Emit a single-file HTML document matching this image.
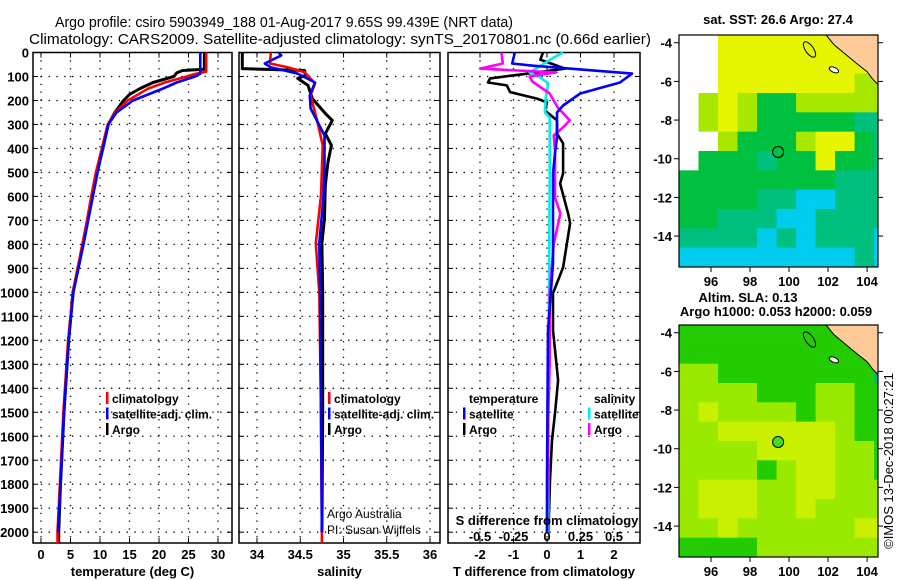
<!DOCTYPE html>
<html><head><meta charset="utf-8"><title>Argo profile</title>
<style>
html,body{margin:0;padding:0;background:#fff;}
svg{display:block;font-family:"Liberation Sans",sans-serif;}
.b{font-weight:bold;font-size:13px;}
.lg{font-weight:bold;font-size:12px;}
</style></head>
<body>
<svg id="fig" width="900" height="580" viewBox="0 0 900 580">
<text x="284" y="27" text-anchor="middle" font-size="15" textLength="458" lengthAdjust="spacingAndGlyphs">Argo profile: csiro 5903949_188 01-Aug-2017 9.65S 99.439E (NRT data)</text>
<text x="340" y="44" text-anchor="middle" font-size="15" textLength="622" lengthAdjust="spacingAndGlyphs">Climatology: CARS2009. Satellite-adjusted climatology: synTS_20170801.nc (0.66d earlier)</text>
<g id="panels"></g>
<g id="maps"></g>
<text transform="translate(893,461) rotate(-90)" text-anchor="middle" font-size="13">©IMOS 13-Dec-2018 00:27:21</text>
</svg>
<script>
// ---------- profile data ----------
const depthTicks = [0,100,200,300,400,500,600,700,800,900,1000,1100,1200,1300,1400,1500,1600,1700,1800,1900,2000];
const tempTicks = [0,5,10,15,20,25,30];
const salTicks = [34,34.5,35,35.5,36];
const dtTicks = [-2,-1,0,1,2];
const dsTicks = [-0.5,-0.25,0,0.25,0.5];

const tArgoD = [0,70,75,85,100,125,150,175,200,250,300,400,500,600,700,800,1000,1200,1500,1800,2000,2045];
const tArgo  = [27.7,27.7,24,23,22.5,19,16.8,15,14,12.5,11.4,10.5,9.5,8.7,7.9,7.1,5.4,4.7,3.9,3.3,3.0,3.0];
const tClimD = [0,80,90,100,125,150,200,250,300,400,500,600,700,800,1000,1200,1500,1800,2000,2045];
const tClim  = [28.0,28.0,26,24.7,21,18.2,14.7,12.6,11.3,10.3,9.3,8.5,7.8,7.0,5.4,4.6,3.8,3.2,2.8,2.8];
const tSatD  = [0,88,100,125,150,200,250,300,400,500,600,700,800,1000,1200,1500,1800,2000];
const tSat   = [27.0,27.0,26.1,23,20.7,15.6,12.8,11.4,10.5,9.6,8.8,8.0,7.2,5.5,4.7,3.9,3.3,2.9];

const sArgoD = [0,67,75,96,108,137,192,254,283,338,387,458,554,692,796,1000,1500,2000];
const sArgo  = [33.83,33.83,34.55,34.56,34.47,34.59,34.64,34.79,34.87,34.79,34.86,34.82,34.79,34.78,34.75,34.76,34.76,34.75];
const sClimD = [0,46,62,82,129,179,292,387,596,796,1000,1500,2000,2045];
const sClim  = [34.16,34.15,34.36,34.55,34.67,34.62,34.70,34.76,34.74,34.68,34.72,34.74,34.75,34.75];
const sSatD  = [0,12,46,62,88,125,179,233,346,458,596,796,1000,1500,2000];
const sSat   = [34.25,34.28,34.09,34.16,34.47,34.67,34.61,34.62,34.78,34.78,34.77,34.72,34.73,34.74,34.75];

const dtArgoD = [0,30,67,83,108,125,137,165,192,208,242,283,338,379,504,546,604,671,712,896,1004,1158,1367,1504,1617,1783,1921,2000];
const dtArgo  = [-0.12,-0.2,0.54,-0.3,-1.7,-1.76,-1.2,-1.1,-0.3,0,-0.06,0.3,0.3,0.48,0.48,0.39,0.5,0.63,0.69,0.48,0.18,0.18,0.33,0.24,0.15,0.09,0.06,0.05];
const dtSatD  = [0,46,55,88,125,171,221,250,354,421,504,879,1158,1783,2000];
const dtSat   = [-0.96,-1.04,-0.42,2.54,2.18,0.99,0.48,0.3,0.3,0.24,0.18,0.18,0.03,0,0];
const dsArgoD = [0,46,67,83,100,121,171,229,283,312,346,408,604,671,800,1000,1300,1500,2000];
const dsArgo  = [-0.34,-0.33,-0.5,0.07,-0.13,-0.11,0.02,0.08,0.17,0.12,0.05,0.06,0.06,0.1,0.05,0.02,0.02,0.01,0];
const dsSatD  = [0,21,63,83,104,129,188,250,271,504,1000,1500,2000];
const dsSat   = [0.12,0.05,-0.07,-0.13,-0.05,0.01,-0.01,-0.015,0.02,0.02,0.015,0.01,0.01];

// ---------- helpers ----------
const NS='http://www.w3.org/2000/svg';
function mk(tag,attrs,parent){const e=document.createElementNS(NS,tag);for(const k in attrs)e.setAttribute(k,attrs[k]);parent.appendChild(e);return e;}
const TOP=52.5, BOT=543, DMAX=2045;
const yD = d => TOP + (d/DMAX)*(BOT-TOP);
function lin(d0,d1,r0,r1){return v=>r0+(v-d0)/(d1-d0)*(r1-r0);}

const panels=document.getElementById('panels');
const P=[
 {name:'temperature-panel',x0:33,x1:232,sc:lin(0,30,41,218),ticks:tempTicks,label:'temperature (deg C)',ylabels:true},
 {name:'salinity-panel',x0:239,x1:440,sc:lin(34,36,257,430),ticks:salTicks,label:'salinity'},
 {name:'difference-panel',x0:448,x1:640,sc:lin(-2,2,480,614),ticks:dtTicks,label:'T difference from climatology'}
];
P.forEach(p=>{
  const g=mk('g',{},panels);
  
  
  depthTicks.forEach(d=>{
    const y=yD(d);
    mk('line',{x1:p.x0,x2:p.x1,y1:y,y2:y,stroke:'#000','stroke-width':1.3,'stroke-dasharray':'1.3,6.5'},g);
    mk('line',{x1:p.x0,x2:p.x0+5,y1:y,y2:y,stroke:'#000'},g);
    mk('line',{x1:p.x1-5,x2:p.x1,y1:y,y2:y,stroke:'#000'},g);
    if(p.ylabels){const t=mk('text',{x:29,y:y+5,'text-anchor':'end',class:'b'},g);t.textContent=d;
      
      }
  });
  p.ticks.forEach(v=>{
    const x=p.sc(v);
    mk('line',{x1:x,x2:x,y1:TOP,y2:BOT,stroke:'#000','stroke-width':1.3,'stroke-dasharray':'1.3,6.5'},g);
    mk('line',{x1:x,x2:x,y1:BOT-5,y2:BOT,stroke:'#000'},g);
    mk('line',{x1:x,x2:x,y1:TOP,y2:TOP+5,stroke:'#000'},g);
    const t=mk('text',{x:x,y:559,'text-anchor':'middle',class:'b'},g);t.textContent=v;
    
    
  });
  const t=mk('text',{x:(p.x0+p.x1)/2,y:576,'text-anchor':'middle',class:'b'},g);t.textContent=p.label;
  
  
  const r=mk('rect',{x:p.x0,y:TOP,width:p.x1-p.x0,height:BOT-TOP,fill:'none',stroke:'#000','stroke-width':1.5},g);
  
  
});
function series(sc,ds,vs,color,name,w){
  const pts=ds.map((d,i)=>sc(vs[i]).toFixed(1)+','+yD(d).toFixed(1)).join(' ');
  const e=mk('polyline',{points:pts,fill:'none',stroke:color,'stroke-width':w||2.6,'stroke-linejoin':'round'},panels);
  
  
}
series(P[0].sc,tArgoD,tArgo,'#000','argo-temperature-line',3);
series(P[0].sc,tClimD,tClim,'#f00','climatology-temperature-line');
series(P[0].sc,tSatD,tSat,'#00f','satellite-temperature-line');
series(P[1].sc,sArgoD,sArgo,'#000','argo-salinity-line',3);
series(P[1].sc,sClimD,sClim,'#f00','climatology-salinity-line');
series(P[1].sc,sSatD,sSat,'#00f','satellite-salinity-line');
const sdx=lin(-0.5,0.5,480,614);
series(P[2].sc,dtArgoD,dtArgo,'#000','argo-t-difference-line');
series(sdx,dsSatD,dsSat,'#0ee','satellite-s-difference-line');
series(sdx,dsArgoD,dsArgo,'#f0f','argo-s-difference-line');
series(P[2].sc,dtSatD,dtSat,'#00f','satellite-t-difference-line');

(function(){
  const t=mk('text',{x:547,y:525,'text-anchor':'middle',class:'b'},panels);t.textContent='S difference from climatology';
  
  
  dsTicks.forEach(v=>{const e=mk('text',{x:sdx(v),y:541,'text-anchor':'middle',class:'b'},panels);e.textContent=v;
    
    });
})();
function legend(x,y,items){
  items.forEach((it,i)=>{
    const yy=y+i*15.5;
    if(it[1]){const m=mk('rect',{x:x-6,y:yy-11,width:2.5,height:12,fill:it[1]},panels);
      
      }
    const t=mk('text',{x:x,y:yy,class:'lg'},panels);t.textContent=it[0];
    
    
  });
}
legend(112,403,[['climatology','#f00'],['satellite-adj. clim.','#00f'],['Argo','#000']]);
legend(334,403,[['climatology','#f00'],['satellite-adj. clim.','#00f'],['Argo','#000']]);
legend(469,403,[['temperature',null],['satellite','#00f'],['Argo','#000']]);
legend(594,403,[['salinity',null],['satellite','#0ee'],['Argo','#f0f']]);
(function(){
  const a=mk('text',{x:327,y:518,'font-size':12},panels);a.textContent='Argo Australia';
  
  
  const b=mk('text',{x:327,y:534,'font-size':12},panels);b.textContent='PI: Susan Wijffels';
  
  
})();

// ---------- maps ----------
const lonTicks=[96,98,100,102,104];
const latTicks=[-4,-6,-8,-10,-12,-14];
const sstGrid=[
 'WWYYYYYYYYY',
 'WWYYYYYYYYY',
 'WWYYYYYYYLL',
 'WLYLGGLLLLL',
 'WLYLGGGGGTT',
 'WWLGGGLYYGT',
 'WGGGTGGYGGT',
 'GGGGGGGGTTT',
 'GGGGTTCCTTT',
 'GGTTTCCTTTT',
 'TTTTCTCTTTC',
 'CCCCCCCCCTC'];
const slaGrid=[
 'GGGGGGGGGGG',
 'GGGGGGGGGGT',
 'LLGGGGGGGGT',
 'LLLLGGGLLGG',
 'LYLLLLGLLGG',
 'LLYYYYYYLGG',
 'LLLLYYYYLLG',
 'LLLLGLYYLLG',
 'LYYYLLYYLLL',
 'LYYYLLYLLLL',
 'LLYLLLLLLYY',
 'GGGGLLLLLLL'];
const sstColors={W:'#ffffff',Y:'#e6f500',L:'#a8e800',G:'#00c040',T:'#00c080',C:'#00ccee'};
const slaColors={G:'#22cc00',L:'#99ea00',Y:'#c8f000',T:'#00bb66'};
const argoLon=99.44, argoLat=-9.65;
const maps=document.getElementById('maps');
function drawMap(top,grid,colors,name,titles,dotFill){
  const L=679,R=878,B=top+232;
  const mx=lin(94.36,104.56,L,R), my=lin(-3.6,-15.6,top,B);
  const g=mk('g',{},maps);
  
  
  const cid='clip-'+name;
  const cp=mk('clipPath',{id:cid},g);mk('rect',{x:L,y:top,width:R-L,height:B-top},cp);
  const cg=mk('g',{'clip-path':'url(#'+cid+')'},g);
  grid.forEach((row,j)=>{[...row].forEach((c,i)=>{
    const x0=mx(94.36+i),x1=mx(95.36+i),y0=my(-3.6-j),y1=my(-4.6-j);
    const cell=mk('rect',{x:x0,y:y0,width:x1-x0+0.5,height:y1-y0+0.5,fill:colors[c]},cg);
    
    
  });});
  const land=[[101.9,-3.6],[102.3,-4.1],[102.9,-4.6],[103.5,-5.1],[104.0,-5.5],[104.3,-5.9],[104.6,-6.2],[104.6,-3.6]];
  const lp=mk('polygon',{points:land.map(p=>mx(p[0])+','+my(p[1])).join(' '),fill:'#ffcc99',stroke:'#000','stroke-width':1},cg);
  
  
  const is1=mk('ellipse',{cx:mx(101.05),cy:my(-4.35),rx:4,ry:9,transform:'rotate(-35 '+mx(101.05)+' '+my(-4.35)+')',fill:'none',stroke:'#000'},cg);
  
  
  const is2=mk('ellipse',{cx:mx(102.3),cy:my(-5.4),rx:5,ry:2.5,transform:'rotate(25 '+mx(102.3)+' '+my(-5.4)+')',fill:'#fff',stroke:'#000'},cg);
  
  
  const dot=mk('circle',{cx:mx(argoLon),cy:my(argoLat),r:5.5,fill:dotFill,stroke:'#000','stroke-width':1},g);
  
  
  const fr=mk('rect',{x:L,y:top,width:R-L,height:B-top,fill:'none',stroke:'#000','stroke-width':1.2},g);
  
  
  lonTicks.forEach(v=>{const x=mx(v);
    mk('line',{x1:x,x2:x,y1:B,y2:B+5,stroke:'#000'},g);
    const t=mk('text',{x:x,y:B+19,'text-anchor':'middle',class:'b'},g);t.textContent=v;
    
    });
  latTicks.forEach(v=>{const y=my(v);
    mk('line',{x1:L-5,x2:L,y1:y,y2:y,stroke:'#000'},g);
    mk('line',{x1:R,x2:R+5,y1:y,y2:y,stroke:'#000'},g);
    const t=mk('text',{x:L-7,y:y+5,'text-anchor':'end',class:'b'},g);t.textContent=v;
    
    });
  titles.forEach(tt=>{const t=mk('text',{x:tt[0],y:tt[1],'text-anchor':'middle',class:'b'},g);t.textContent=tt[2];
    
    });
}
drawMap(35,sstGrid,sstColors,'sst-map',[[778,24,'sat. SST: 26.6 Argo: 27.4']],'#00c040');
drawMap(325,slaGrid,slaColors,'sla-map',[[748,302,'Altim. SLA: 0.13'],[776,316,'Argo h1000: 0.053 h2000: 0.059']],'#44dd22');
</script>
</body></html>
